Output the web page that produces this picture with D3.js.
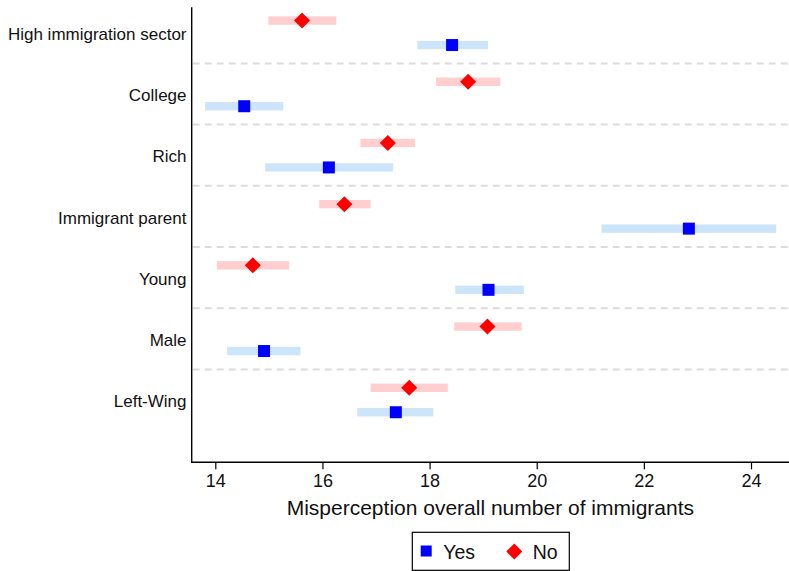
<!DOCTYPE html>
<html>
<head>
<meta charset="utf-8">
<script src="https://cdn.jsdelivr.net/npm/d3@7"></script>
<style>
  html, body { margin: 0; padding: 0; background: #fff; }
  svg { display: block; font-family: "Liberation Sans", Arial, Helvetica, sans-serif; }
</style>
</head>
<body>
<svg id="chart" width="789" height="571"></svg>
<script>
// ---- Data ----
const categories = ["High immigration sector", "College", "Rich", "Immigrant parent", "Young", "Male", "Left-Wing"];
const yesEstimate = [18.42, 14.54, 16.12, 22.84, 19.10, 14.91, 17.37];
const yesLower    = [17.77, 13.81, 14.93, 21.21, 18.48, 14.22, 16.65];
const yesUpper    = [19.09, 15.27, 17.32, 24.47, 19.76, 15.59, 18.07];
const noEstimate  = [15.62, 18.72, 17.22, 16.41, 14.70, 19.08, 17.62];
const noLower     = [14.99, 18.12, 16.71, 15.94, 14.03, 18.46, 16.90];
const noUpper     = [16.26, 19.32, 17.73, 16.90, 15.38, 19.72, 18.34];
const xTicks = [14, 16, 18, 20, 22, 24];
const xTitle = "Misperception overall number of immigrants";
const legendLabels = ["Yes", "No"];

// ---- Layout ----
const svg = d3.select("#chart");
const plot = { left: 191.7, right: 789, top: 7.3, bottom: 462.3 };

const x = d3.scaleLinear().domain([14, 24]).range([215.3, 751]);
const y = d3.scaleLinear().domain([0, 6]).range([32.8, 400]);
const off = 0.2; // group offset in row units

const colors = {
  yes: "#0000ff", no: "#ff0000",
  yesCI: "#cde5fb", noCI: "#ffcfcf",
  grid: "#dcdcdc"
};

// separators
const seps = d3.range(categories.length - 1).map(i => i + 0.5);
svg.append("g").selectAll("line").data(seps).join("line")
  .attr("x1", plot.left + 1).attr("x2", plot.right)
  .attr("y1", d => y(d)).attr("y2", d => y(d))
  .attr("stroke", colors.grid).attr("stroke-width", 2)
  .attr("stroke-dasharray", "7,5");

// series
const series = [
  { key: "no", est: noEstimate, lo: noLower, hi: noUpper, dy: -off, color: colors.no, ci: colors.noCI, shape: "diamond" },
  { key: "yes", est: yesEstimate, lo: yesLower, hi: yesUpper, dy: off, color: colors.yes, ci: colors.yesCI, shape: "square" }
];

series.forEach(s => {
  const g = svg.append("g");
  const data = categories.map((c, i) => ({ i, est: s.est[i], lo: s.lo[i], hi: s.hi[i] }));
  g.selectAll("rect.ci").data(data).join("rect").attr("class", "ci")
    .attr("x", d => x(d.lo)).attr("width", d => x(d.hi) - x(d.lo))
    .attr("y", d => y(d.i + s.dy) - 4.2).attr("height", 8.4)
    .attr("fill", s.ci);
  if (s.shape === "square") {
    g.selectAll("rect.pt").data(data).join("rect").attr("class", "pt")
      .attr("x", d => x(d.est) - 6).attr("y", d => y(d.i + s.dy) - 6)
      .attr("width", 12).attr("height", 12).attr("fill", s.color);
  } else {
    g.selectAll("path.pt").data(data).join("path").attr("class", "pt")
      .attr("d", d => {
        const cx = x(d.est), cy = y(d.i + s.dy), r = 8;
        return `M${cx},${cy - r}L${cx + r},${cy}L${cx},${cy + r}L${cx - r},${cy}Z`;
      })
      .attr("fill", s.color);
  }
});

// y category labels
svg.append("g").selectAll("text").data(categories).join("text")
  .attr("x", 186.5).attr("y", (d, i) => y(i) + 1)
  .attr("dy", "0.36em")
  .attr("text-anchor", "end")
  .attr("font-size", 17).attr("fill", "#111")
  .text(d => d);

// axes lines
svg.append("line")
  .attr("x1", plot.left).attr("x2", plot.left)
  .attr("y1", plot.top).attr("y2", plot.bottom + 0.7)
  .attr("stroke", "#000").attr("stroke-width", 1.4);

const xAxisG = svg.append("g").attr("transform", `translate(0,${plot.bottom})`);
const xAxis = d3.axisBottom(x).tickValues(xTicks).tickSize(7).tickPadding(5).tickFormat(d3.format("d"));
xAxisG.call(xAxis);
xAxisG.select(".domain").remove();
xAxisG.append("line").attr("x1", plot.left).attr("x2", plot.right).attr("y1", 0).attr("y2", 0)
  .attr("stroke", "#000").attr("stroke-width", 1.4);
xAxisG.selectAll(".tick line").attr("stroke", "#000").attr("stroke-width", 1.2);
xAxisG.selectAll(".tick text").attr("font-size", 18).attr("fill", "#111")
  .attr("font-family", "Liberation Sans, Arial, sans-serif");

// x title
svg.append("text")
  .attr("x", (plot.left + plot.right) / 2).attr("y", 515)
  .attr("text-anchor", "middle").attr("font-size", 21).attr("fill", "#111")
  .text(xTitle);

// legend
const lg = svg.append("g");
lg.append("rect").attr("x", 412.3).attr("y", 532.3).attr("width", 157).attr("height", 38)
  .attr("fill", "#fff").attr("stroke", "#000").attr("stroke-width", 1.2);
lg.append("rect").attr("x", 420.7).attr("y", 545.5).attr("width", 11).attr("height", 11).attr("fill", colors.yes);
lg.append("text").attr("x", 443.3).attr("y", 559).attr("font-size", 19.5).attr("fill", "#111").text(legendLabels[0]);
lg.append("path").attr("d", () => {
  const cx = 514.3, cy = 551.5, r = 8;
  return `M${cx},${cy - r}L${cx + r},${cy}L${cx},${cy + r}L${cx - r},${cy}Z`;
}).attr("fill", colors.no);
lg.append("text").attr("x", 532.7).attr("y", 559).attr("font-size", 19.5).attr("fill", "#111").text(legendLabels[1]);
</script>
</body>
</html>
